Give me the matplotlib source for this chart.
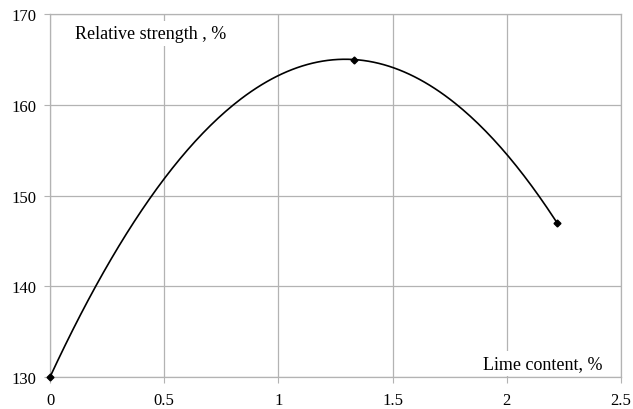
import numpy as np
import matplotlib.pyplot as plt

# measured points (lime content %, relative strength %)
lime = [0.0, 1.33, 2.22]
strength = [130.0, 165.0, 147.0]

x_ticks = [0, 0.5, 1, 1.5, 2, 2.5]
x_tick_labels = ["0", "0.5", "1", "1.5", "2", "2.5"]
y_ticks = [130, 140, 150, 160, 170]

plt.rcParams['font.family'] = ['Liberation Serif', 'DejaVu Serif']

fig = plt.figure(figsize=(6.33, 4.10), dpi=100)
ax = fig.add_axes([0.079, 0.078, 0.902, 0.885])

# second-order trendline through the measured points
coef = np.polyfit(lime, strength, 2)
xs = np.linspace(min(lime), max(lime), 200)
ax.plot(xs, np.polyval(coef, xs), color='black', linewidth=1.2, zorder=3)
ax.plot(lime, strength, linestyle='none', marker='D', markersize=3.5,
        color='black', zorder=4, clip_on=False)

ax.set_xlim(0, 2.5)
ax.set_ylim(130, 170)
ax.set_xticks(x_ticks)
ax.set_xticklabels(x_tick_labels)
ax.set_yticks(y_ticks)

grid_col = '#b3b3b3'
ax.grid(True, color=grid_col, linewidth=0.9)
ax.set_axisbelow(True)
for side in ['left', 'bottom', 'top', 'right']:
    ax.spines[side].set_color(grid_col)
    ax.spines[side].set_linewidth(0.9)
ax.tick_params(axis='both', length=4, color=grid_col, labelsize=12,
               labelcolor='black')
ax.tick_params(axis='y', pad=6)
ax.tick_params(axis='x', pad=7)

box = dict(facecolor='white', edgecolor='none', pad=3)
ax.text(0.11, 167.9, "Relative strength , %", fontsize=13, ha='left',
        va='center', bbox=box, zorder=5)
ax.text(2.42, 131.5, "Lime content, %", fontsize=13, ha='right',
        va='center', bbox=box, zorder=5)

fig.savefig("out.png", dpi=100)
